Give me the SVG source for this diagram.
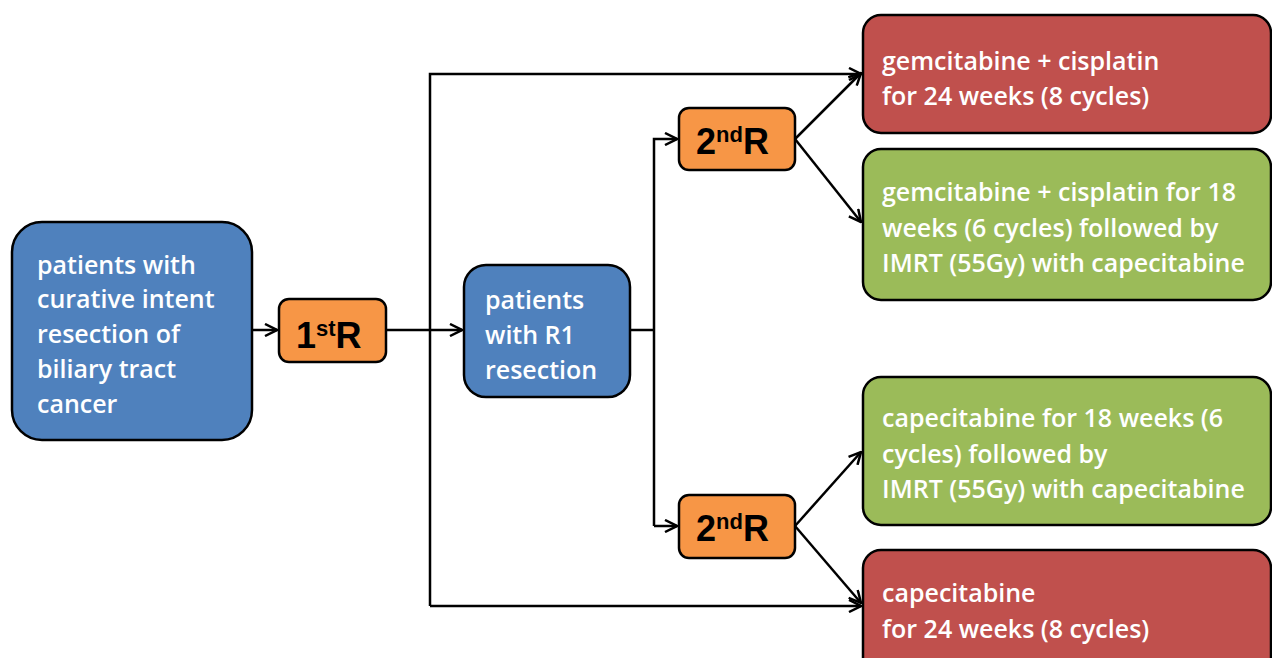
<svg xmlns="http://www.w3.org/2000/svg" width="1272" height="658" viewBox="0 0 1272 658">
<style>
.box{stroke:#000;stroke-width:2.5}
.blue{fill:#4F81BD}.orange{fill:#F79646}.red{fill:#C0504D}.green{fill:#9BBB59}
.t{font-family:"Open Sans","Liberation Sans",sans-serif;font-size:25px;fill:#fff;font-weight:600}
.r{font-family:"Liberation Sans",Arial,sans-serif;font-weight:bold;font-size:36px;fill:#000}
.sup{font-size:22px}
.c{fill:none;stroke:#000;stroke-width:2.5}
</style>
<defs>
<marker id="ah" viewBox="0 0 14 14" refX="13" refY="7" markerWidth="14" markerHeight="14" markerUnits="userSpaceOnUse" orient="auto">
<path d="M1,1 L13,7 L1,13" fill="none" stroke="#000" stroke-width="2.5"/>
</marker>
</defs>
<g id="connectors">
<path class="c" d="M252,330 L277,330" marker-end="url(#ah)"/>
<path class="c" d="M386,330 L462,330" marker-end="url(#ah)"/>
<path class="c" d="M430,606 L430,74 L861,74" marker-end="url(#ah)"/>
<path class="c" d="M430,606 L861,606" marker-end="url(#ah)"/>
<path class="c" d="M630,330 L654,330"/>
<path class="c" d="M654,526 L654,139 L677,139" marker-end="url(#ah)"/>
<path class="c" d="M654,526 L677,526" marker-end="url(#ah)"/>
<path class="c" d="M795,139 L861,73" marker-end="url(#ah)"/>
<path class="c" d="M795,139 L861,222" marker-end="url(#ah)"/>
<path class="c" d="M795,526 L861,452" marker-end="url(#ah)"/>
<path class="c" d="M795,526 L861,603" marker-end="url(#ah)"/>
</g>
<g id="patients">
<rect class="box blue" x="12" y="222" width="240" height="218" rx="30"/>
<text class="t" x="37" y="274">patients with</text>
<text class="t" x="37" y="308">curative intent</text>
<text class="t" x="37" y="343">resection of</text>
<text class="t" x="37" y="378">biliary tract</text>
<text class="t" x="37" y="413">cancer</text>
</g>
<g id="r1st">
<rect class="box orange" x="279" y="299" width="107" height="63" rx="10"/>
<text class="r" x="296" y="348">1<tspan class="sup" dy="-12">st</tspan><tspan dy="12">R</tspan></text>
</g>
<g id="r1resection">
<rect class="box blue" x="464" y="265" width="166" height="132" rx="22"/>
<text class="t" x="485" y="309">patients</text>
<text class="t" x="485" y="344">with R1</text>
<text class="t" x="485" y="379">resection</text>
</g>
<g id="r2nd-top">
<rect class="box orange" x="679" y="108" width="116" height="62" rx="10"/>
<text class="r" x="696" y="154">2<tspan class="sup" dy="-12">nd</tspan><tspan dy="12">R</tspan></text>
</g>
<g id="r2nd-bottom">
<rect class="box orange" x="679" y="495" width="116" height="63" rx="10"/>
<text class="r" x="696" y="541">2<tspan class="sup" dy="-12">nd</tspan><tspan dy="12">R</tspan></text>
</g>
<g id="gc24">
<rect class="box red" x="863" y="15" width="408" height="118" rx="18"/>
<text class="t" x="882" y="70">gemcitabine + cisplatin</text>
<text class="t" x="882" y="105">for 24 weeks (8 cycles)</text>
</g>
<g id="gc18">
<rect class="box green" x="863" y="149" width="408" height="151" rx="18"/>
<text class="t" x="882" y="201">gemcitabine + cisplatin for 18</text>
<text class="t" x="882" y="237">weeks (6 cycles) followed by</text>
<text class="t" x="882" y="272">IMRT (55Gy) with capecitabine</text>
</g>
<g id="cap18">
<rect class="box green" x="863" y="377" width="408" height="148" rx="18"/>
<text class="t" x="882" y="427">capecitabine for 18 weeks (6</text>
<text class="t" x="882" y="463">cycles) followed by</text>
<text class="t" x="882" y="498">IMRT (55Gy) with capecitabine</text>
</g>
<g id="cap24">
<rect class="box red" x="863" y="550" width="408" height="130" rx="18"/>
<text class="t" x="882" y="602">capecitabine</text>
<text class="t" x="882" y="638">for 24 weeks (8 cycles)</text>
</g>
</svg>
